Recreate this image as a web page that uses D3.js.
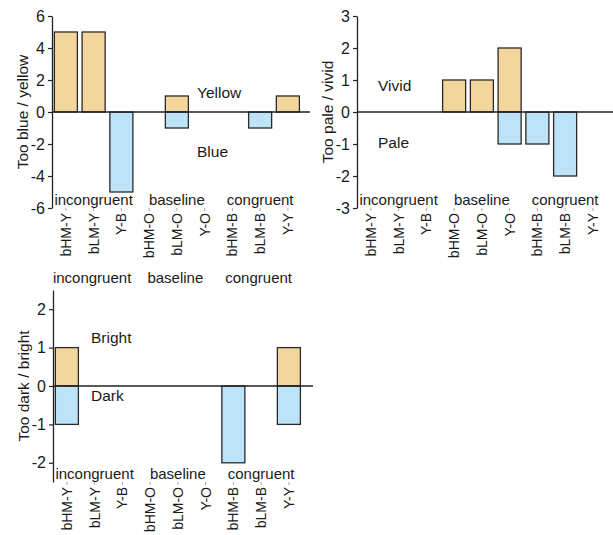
<!DOCTYPE html>
<html>
<head>
<meta charset="utf-8">
<script src="https://cdn.jsdelivr.net/npm/d3@7"></script>
<style>
  html, body { margin: 0; padding: 0; background: #fff; }
  svg { display: block; font-family: "Liberation Sans", Arial, sans-serif; }
</style>
</head>
<body>
<svg id="chart" width="613" height="535"></svg>
<script>
// ---- data ----
const categories = ["bHM-Y", "bLM-Y", "Y-B", "bHM-O", "bLM-O", "Y-O", "bHM-B", "bLM-B", "Y-Y"];
const groups = ["incongruent", "baseline", "congruent"];
const groupMembers = [[0, 1, 2], [3, 4, 5], [6, 7, 8]];

const blueYellowPos = [5, 5, 0, 0, 1, 0, 0, 0, 1];
const blueYellowNeg = [0, 0, -5, 0, -1, 0, 0, -1, 0];
const blueYellowTicks = [-6, -4, -2, 0, 2, 4, 6];

const paleVividPos = [0, 0, 0, 1, 1, 2, 0, 0, 0];
const paleVividNeg = [0, 0, 0, 0, 0, -1, -1, -2, 0];
const paleVividTicks = [-3, -2, -1, 0, 1, 2, 3];

const darkBrightPos = [1, 0, 0, 0, 0, 0, 0, 0, 1];
const darkBrightNeg = [-1, 0, 0, 0, 0, 0, -2, 0, -1];
const darkBrightTicks = [-2, -1, 0, 1, 2];

const panelTitles = ["Too blue / yellow", "Too pale / vivid", "Too dark / bright"];
const posLabels = ["Yellow", "Vivid", "Bright"];
const negLabels = ["Blue", "Pale", "Dark"];

// ---- layout ----
const svg = d3.select("#chart");
const posColor = "#F3D69C";
const negColor = "#BDE3F8";
const stroke = "#2a2a2a";
const textColor = "#1a1a1a";
const step = 27.75;

const panels = [
  { pos: blueYellowPos, neg: blueYellowNeg, ticks: blueYellowTicks, domain: [-6, 6],
    x0: 52, top: 16, bottom: 208, lineEnd: 310, title: panelTitles[0],
    pl: posLabels[0], nl: negLabels[0], plv: 1.2, nlv: -2.5, lx: 197 },
  { pos: paleVividPos, neg: paleVividNeg, ticks: paleVividTicks, domain: [-3, 3],
    x0: 357, top: 16, bottom: 208, lineEnd: 613, title: panelTitles[1],
    pl: posLabels[1], nl: negLabels[1], plv: 0.84, nlv: -0.97, lx: 378 },
  { pos: darkBrightPos, neg: darkBrightNeg, ticks: darkBrightTicks, domain: [-2.5, 2.5],
    x0: 53, top: 290, bottom: 482, lineEnd: 313, title: panelTitles[2],
    pl: posLabels[2], nl: negLabels[2], plv: 1.25, nlv: -0.26, lx: 91 }
];

panels.forEach((p, pi) => {
  const x = d3.scaleBand().domain(categories)
    .range([p.x0, p.x0 + step * categories.length])
    .paddingInner(0.17).paddingOuter(0.085);
  const y = d3.scaleLinear().domain(p.domain).range([p.bottom, p.top]);
  const g = svg.append("g");

  // bars
  const barData = [];
  categories.forEach((c, i) => {
    if (p.pos[i] !== 0) barData.push({ c, v: p.pos[i], fill: posColor });
    if (p.neg[i] !== 0) barData.push({ c, v: p.neg[i], fill: negColor });
  });
  g.selectAll("rect.bar").data(barData).join("rect")
    .attr("class", "bar")
    .attr("x", d => x(d.c))
    .attr("width", x.bandwidth())
    .attr("y", d => y(Math.max(0, d.v)))
    .attr("height", d => Math.abs(y(d.v) - y(0)))
    .attr("fill", d => d.fill)
    .attr("stroke", stroke)
    .attr("stroke-width", 1.3);

  // zero line
  g.append("line")
    .attr("x1", p.x0).attr("x2", p.lineEnd)
    .attr("y1", y(0)).attr("y2", y(0))
    .attr("stroke", "#222").attr("stroke-width", 1.3);

  // y axis
  const yAxis = d3.axisLeft(y).tickValues(p.ticks).tickSize(4).tickPadding(3).tickSizeOuter(0)
    .tickFormat(d3.format("d"));
  const ya = g.append("g").attr("transform", `translate(${p.x0},0)`).call(yAxis);
  ya.select(".domain").attr("stroke", "#222").attr("stroke-width", 1.3);
  ya.selectAll(".tick line").attr("stroke", "#222").attr("stroke-width", 1.2);
  ya.selectAll(".tick text")
    .attr("font-size", 16).attr("fill", textColor)
    .attr("font-family", "'Liberation Sans', Arial, sans-serif")
    .text(d => d < 0 ? "-" + Math.abs(d) : String(d));

  // y title
  g.append("text")
    .attr("transform", `translate(${p.x0 - 29},${(p.top + p.bottom) / 2}) rotate(-90)`)
    .attr("text-anchor", "middle").attr("dy", "0.35em")
    .attr("font-size", 15.5).attr("fill", textColor)
    .text(p.title);

  // x ticks (small gray marks) and labels
  const xAxis = d3.axisBottom(x).tickSize(3).tickPadding(3);
  const xa = g.append("g").attr("transform", `translate(0,${p.bottom})`).call(xAxis);
  xa.select(".domain").remove();
  xa.selectAll(".tick line").attr("stroke", "#aaa");
  xa.selectAll(".tick text")
    .attr("font-size", 14).attr("fill", textColor)
    .attr("font-family", "'Liberation Sans', Arial, sans-serif")
    .attr("text-anchor", "end")
    .attr("transform", "rotate(-90)")
    .attr("x", -5).attr("y", 0).attr("dy", "0.35em");

  // group labels inside plot bottom
  groups.forEach((gname, gi) => {
    const m = groupMembers[gi];
    const cx = (x(categories[m[0]]) + x(categories[m[m.length - 1]]) + x.bandwidth()) / 2;
    g.append("text")
      .attr("x", cx).attr("y", p.bottom - 3.5)
      .attr("text-anchor", "middle")
      .attr("font-size", 15).attr("fill", textColor)
      .text(gname);
  });

  // extra group row between top-left and bottom-left panels
  if (pi === 0) {
    groups.forEach((gname, gi) => {
      const m = groupMembers[gi];
      const cx = (x(categories[m[0]]) + x(categories[m[m.length - 1]]) + x.bandwidth()) / 2;
      g.append("text")
        .attr("x", cx - 1.5).attr("y", 283)
        .attr("text-anchor", "middle")
        .attr("font-size", 15).attr("fill", textColor)
        .text(gname);
    });
  }

  // direction annotations
  g.append("text").attr("x", p.lx).attr("y", y(p.plv)).attr("dy", "0.35em")
    .attr("font-size", 15.5).attr("fill", textColor).text(p.pl);
  g.append("text").attr("x", p.lx).attr("y", y(p.nlv)).attr("dy", "0.35em")
    .attr("font-size", 15.5).attr("fill", textColor).text(p.nl);
});
</script>
</body>
</html>
